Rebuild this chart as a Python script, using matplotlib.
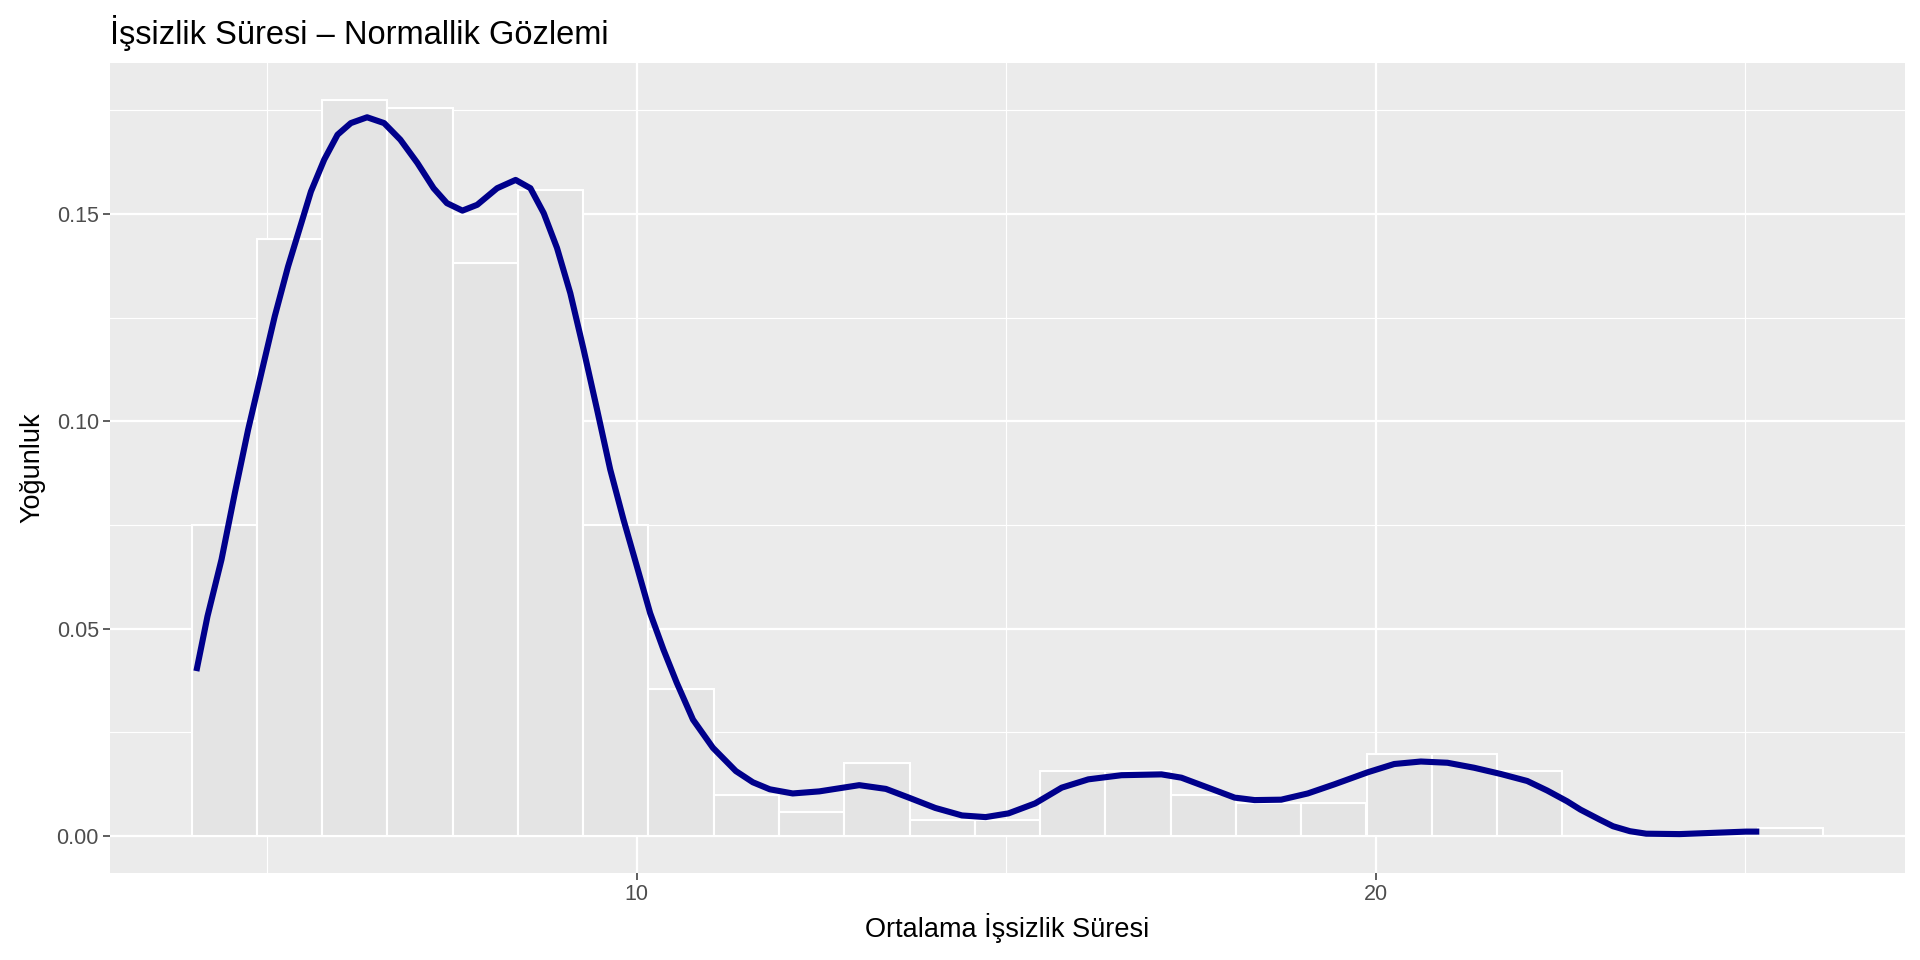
import numpy as np
import matplotlib.pyplot as plt
from matplotlib.ticker import FixedLocator

plt.rcParams['font.family'] = ['Liberation Sans', 'DejaVu Sans']

# histogram (ggplot bins = 25, density scale)
n_obs = 574
bin_start = 3.975
bin_width = 0.8833
counts = [38, 73, 90, 89, 70, 79, 38, 18, 5, 3, 9, 2, 2, 8, 8, 5, 4, 4, 10, 10, 8, 0, 0, 0, 1]

# density curve
kde_x = [4.04, 4.19, 4.38, 4.56, 4.74, 4.92, 5.10, 5.28, 5.46, 5.59, 5.77, 5.95, 6.13, 6.35,
         6.58, 6.80, 7.03, 7.25, 7.43, 7.64, 7.84, 8.11, 8.36, 8.56, 8.74, 8.92, 9.10, 9.28,
         9.46, 9.64, 9.82, 10.0, 10.18, 10.36, 10.54, 10.76, 11.03, 11.34, 11.57, 11.80,
         12.11, 12.47, 13.01, 13.37, 13.68, 14.04, 14.40, 14.72, 15.03, 15.39, 15.75, 16.11,
         16.56, 17.10, 17.37, 17.73, 18.09, 18.36, 18.72, 19.08, 19.44, 19.89, 20.25, 20.61,
         20.97, 21.33, 21.69, 22.05, 22.32, 22.59, 22.77, 23.03, 23.21, 23.44, 23.66, 24.11,
         24.56, 25.01, 25.19]
kde_y = [0.0398, 0.0530, 0.0667, 0.0827, 0.0980, 0.1117, 0.1253, 0.1373, 0.1478, 0.1554,
         0.1631, 0.1691, 0.1719, 0.1733, 0.1719, 0.1679, 0.1623, 0.1562, 0.1526, 0.1508,
         0.1522, 0.1562, 0.1582, 0.1562, 0.1502, 0.1418, 0.1309, 0.1173, 0.1030, 0.0884,
         0.0763, 0.0651, 0.0538, 0.0450, 0.0370, 0.0281, 0.0213, 0.0157, 0.0130,
         0.0113, 0.0103, 0.0108, 0.0123, 0.0114, 0.0093, 0.0068, 0.0050, 0.0046, 0.0055,
         0.0079, 0.0117, 0.0137, 0.0147, 0.0149, 0.0141, 0.0117, 0.0093, 0.0087, 0.0088,
         0.0103, 0.0125, 0.0154, 0.0174, 0.0180, 0.0177, 0.0165, 0.0150, 0.0133, 0.0110,
         0.0084, 0.0064, 0.0040, 0.0024, 0.0012, 0.0006, 0.0005, 0.0008, 0.0011, 0.0011]

x_major = [10, 20]
x_minor = [5, 15, 25]
y_major = [0.00, 0.05, 0.10, 0.15]
y_minor = [0.025, 0.075, 0.125, 0.175]

edges = bin_start + bin_width * np.arange(len(counts))
dens = np.array(counts) / (n_obs * bin_width)

W, H = 1920, 960
fig = plt.figure(figsize=(W / 100, H / 100), dpi=100)
ax = fig.add_axes([110 / W, 1 - 873 / H, (1905 - 110) / W, (873 - 63) / H])
ax.set_facecolor('#EBEBEB')

ax.bar(edges, dens, width=bin_width, align='edge', color='#E4E4E4',
       edgecolor='white', linewidth=1.5, zorder=2)
ax.plot(kde_x, kde_y, color='#00008B', linewidth=4.4, solid_capstyle='butt',
        solid_joinstyle='round', zorder=3)

lo, hi = edges[0], edges[-1] + bin_width
pad = (hi - lo) * 0.05
ax.set_xlim(lo - pad, hi + pad)
ymax = dens.max()
ax.set_ylim(-ymax * 0.05, ymax * 1.05)

ax.xaxis.set_major_locator(FixedLocator(x_major))
ax.xaxis.set_minor_locator(FixedLocator(x_minor))
ax.yaxis.set_major_locator(FixedLocator(y_major))
ax.yaxis.set_minor_locator(FixedLocator(y_minor))
ax.set_xticklabels([str(v) for v in x_major])
ax.set_yticklabels(['%.2f' % v for v in y_major])

ax.grid(which='major', color='white', linewidth=1.6, zorder=0)
ax.grid(which='minor', color='white', linewidth=0.8, zorder=0)
ax.set_axisbelow(True)
for s in ax.spines.values():
    s.set_visible(False)

ax.tick_params(which='major', length=5, width=1.1, color='#333333',
               labelsize=15.5, labelcolor='#4D4D4D', pad=3)
ax.tick_params(which='minor', length=0)

ax.set_xlabel('Ortalama İşsizlik Süresi', fontsize=19.5, color='black', labelpad=6)
ax.set_ylabel('Yoğunluk', fontsize=19.5, color='black', labelpad=8)
ax.set_title('İşsizlik Süresi – Normallik Gözlemi', loc='left', fontsize=23.5,
             color='black', pad=14)

fig.savefig('out.png', dpi=100, facecolor='white')
